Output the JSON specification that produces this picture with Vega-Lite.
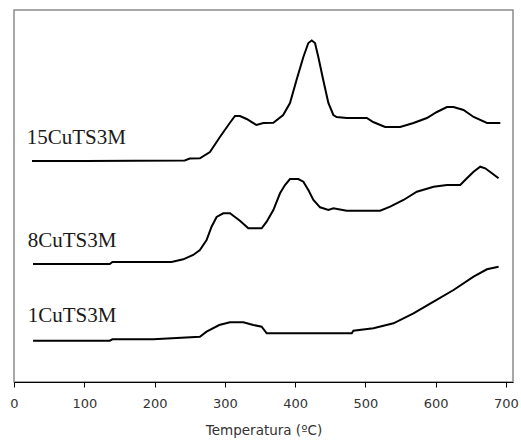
{
  "$schema": "https://vega.github.io/schema/vega-lite/v6.json",
  "width": 499,
  "height": 372,
  "autosize": {"type": "none"},
  "padding": {"left": 14, "top": 10, "right": 8, "bottom": 59},
  "background": "white",
  "config": {"view": {"stroke": "#8c8c8c", "strokeWidth": 1.5}},
  "datasets": {
    "curves": [
      {"sample": "15CuTS3M", "temp": 25.6, "signal": 221},
      {"sample": "15CuTS3M", "temp": 100, "signal": 221},
      {"sample": "15CuTS3M", "temp": 243, "signal": 221.5},
      {"sample": "15CuTS3M", "temp": 250, "signal": 223.5},
      {"sample": "15CuTS3M", "temp": 264.5, "signal": 223.7},
      {"sample": "15CuTS3M", "temp": 278.8, "signal": 230},
      {"sample": "15CuTS3M", "temp": 293, "signal": 245},
      {"sample": "15CuTS3M", "temp": 307, "signal": 259},
      {"sample": "15CuTS3M", "temp": 314.4, "signal": 266},
      {"sample": "15CuTS3M", "temp": 321.5, "signal": 266},
      {"sample": "15CuTS3M", "temp": 331, "signal": 263},
      {"sample": "15CuTS3M", "temp": 345, "signal": 257},
      {"sample": "15CuTS3M", "temp": 354.7, "signal": 259},
      {"sample": "15CuTS3M", "temp": 369, "signal": 259.3},
      {"sample": "15CuTS3M", "temp": 383, "signal": 267},
      {"sample": "15CuTS3M", "temp": 392.7, "signal": 279},
      {"sample": "15CuTS3M", "temp": 402, "signal": 302},
      {"sample": "15CuTS3M", "temp": 411.7, "signal": 325},
      {"sample": "15CuTS3M", "temp": 418.8, "signal": 339},
      {"sample": "15CuTS3M", "temp": 423.6, "signal": 341.5},
      {"sample": "15CuTS3M", "temp": 428.3, "signal": 339},
      {"sample": "15CuTS3M", "temp": 433, "signal": 325},
      {"sample": "15CuTS3M", "temp": 440, "signal": 302},
      {"sample": "15CuTS3M", "temp": 447.3, "signal": 279},
      {"sample": "15CuTS3M", "temp": 454.4, "signal": 267},
      {"sample": "15CuTS3M", "temp": 459, "signal": 265},
      {"sample": "15CuTS3M", "temp": 473.5, "signal": 264},
      {"sample": "15CuTS3M", "temp": 502, "signal": 264},
      {"sample": "15CuTS3M", "temp": 511, "signal": 260},
      {"sample": "15CuTS3M", "temp": 528, "signal": 255},
      {"sample": "15CuTS3M", "temp": 549.4, "signal": 255},
      {"sample": "15CuTS3M", "temp": 568.4, "signal": 259},
      {"sample": "15CuTS3M", "temp": 587.5, "signal": 264},
      {"sample": "15CuTS3M", "temp": 601.7, "signal": 270},
      {"sample": "15CuTS3M", "temp": 616, "signal": 275},
      {"sample": "15CuTS3M", "temp": 625.4, "signal": 275},
      {"sample": "15CuTS3M", "temp": 639.6, "signal": 272},
      {"sample": "15CuTS3M", "temp": 654, "signal": 265},
      {"sample": "15CuTS3M", "temp": 673, "signal": 259},
      {"sample": "15CuTS3M", "temp": 692, "signal": 259},
      {"sample": "8CuTS3M", "temp": 27.1, "signal": 118},
      {"sample": "8CuTS3M", "temp": 136.3, "signal": 118},
      {"sample": "8CuTS3M", "temp": 140, "signal": 120},
      {"sample": "8CuTS3M", "temp": 224.2, "signal": 120},
      {"sample": "8CuTS3M", "temp": 240.8, "signal": 122.7},
      {"sample": "8CuTS3M", "temp": 255, "signal": 127},
      {"sample": "8CuTS3M", "temp": 264.5, "signal": 132},
      {"sample": "8CuTS3M", "temp": 274, "signal": 142},
      {"sample": "8CuTS3M", "temp": 281.1, "signal": 155.3},
      {"sample": "8CuTS3M", "temp": 288.3, "signal": 165},
      {"sample": "8CuTS3M", "temp": 297.8, "signal": 168.7},
      {"sample": "8CuTS3M", "temp": 307.3, "signal": 168.7},
      {"sample": "8CuTS3M", "temp": 321.5, "signal": 161.3},
      {"sample": "8CuTS3M", "temp": 333.4, "signal": 153.7},
      {"sample": "8CuTS3M", "temp": 352.4, "signal": 153.7},
      {"sample": "8CuTS3M", "temp": 359.5, "signal": 160.3},
      {"sample": "8CuTS3M", "temp": 369, "signal": 172},
      {"sample": "8CuTS3M", "temp": 378.5, "signal": 188.7},
      {"sample": "8CuTS3M", "temp": 385.6, "signal": 197},
      {"sample": "8CuTS3M", "temp": 392.7, "signal": 203},
      {"sample": "8CuTS3M", "temp": 404.6, "signal": 203},
      {"sample": "8CuTS3M", "temp": 411.7, "signal": 200.3},
      {"sample": "8CuTS3M", "temp": 418.8, "signal": 192},
      {"sample": "8CuTS3M", "temp": 426, "signal": 182},
      {"sample": "8CuTS3M", "temp": 435.5, "signal": 174.7},
      {"sample": "8CuTS3M", "temp": 447.3, "signal": 172},
      {"sample": "8CuTS3M", "temp": 454.4, "signal": 173.7},
      {"sample": "8CuTS3M", "temp": 473.4, "signal": 171.3},
      {"sample": "8CuTS3M", "temp": 521, "signal": 171.3},
      {"sample": "8CuTS3M", "temp": 535.2, "signal": 175.3},
      {"sample": "8CuTS3M", "temp": 554.2, "signal": 182},
      {"sample": "8CuTS3M", "temp": 573.2, "signal": 190.3},
      {"sample": "8CuTS3M", "temp": 597, "signal": 195.3},
      {"sample": "8CuTS3M", "temp": 616, "signal": 197},
      {"sample": "8CuTS3M", "temp": 634.9, "signal": 197},
      {"sample": "8CuTS3M", "temp": 644.4, "signal": 203.7},
      {"sample": "8CuTS3M", "temp": 653.9, "signal": 210.3},
      {"sample": "8CuTS3M", "temp": 663.4, "signal": 215.3},
      {"sample": "8CuTS3M", "temp": 670.5, "signal": 213.7},
      {"sample": "8CuTS3M", "temp": 680, "signal": 208.7},
      {"sample": "8CuTS3M", "temp": 689.5, "signal": 203.7},
      {"sample": "1CuTS3M", "temp": 27.1, "signal": 41.3},
      {"sample": "1CuTS3M", "temp": 136.3, "signal": 41.3},
      {"sample": "1CuTS3M", "temp": 140, "signal": 42.7},
      {"sample": "1CuTS3M", "temp": 198.1, "signal": 42.7},
      {"sample": "1CuTS3M", "temp": 264.5, "signal": 45.3},
      {"sample": "1CuTS3M", "temp": 274, "signal": 50.3},
      {"sample": "1CuTS3M", "temp": 292, "signal": 57},
      {"sample": "1CuTS3M", "temp": 307.3, "signal": 59.7},
      {"sample": "1CuTS3M", "temp": 326.3, "signal": 59.7},
      {"sample": "1CuTS3M", "temp": 340.5, "signal": 57},
      {"sample": "1CuTS3M", "temp": 352.4, "signal": 55.3},
      {"sample": "1CuTS3M", "temp": 359.5, "signal": 48.7},
      {"sample": "1CuTS3M", "temp": 480.6, "signal": 48.7},
      {"sample": "1CuTS3M", "temp": 482.9, "signal": 51.3},
      {"sample": "1CuTS3M", "temp": 511.4, "signal": 53.7},
      {"sample": "1CuTS3M", "temp": 539.9, "signal": 58.7},
      {"sample": "1CuTS3M", "temp": 568.4, "signal": 68.7},
      {"sample": "1CuTS3M", "temp": 597, "signal": 80.3},
      {"sample": "1CuTS3M", "temp": 625.4, "signal": 92},
      {"sample": "1CuTS3M", "temp": 653.9, "signal": 105.3},
      {"sample": "1CuTS3M", "temp": 672.9, "signal": 112.7},
      {"sample": "1CuTS3M", "temp": 689.5, "signal": 115.3}
    ],
    "labels": [
      {"sample": "15CuTS3M", "temp": 18.1, "signal": 238},
      {"sample": "8CuTS3M", "temp": 19.5, "signal": 135.3},
      {"sample": "1CuTS3M", "temp": 19.5, "signal": 60.3}
    ]
  },
  "layer": [
    {
      "data": {"name": "curves"},
      "mark": {"type": "line", "color": "black", "strokeWidth": 2},
      "encoding": {
        "x": {
          "field": "temp",
          "type": "quantitative",
          "scale": {"domain": [0, 710], "nice": false, "zero": false},
          "axis": {
            "values": [0, 50, 100, 150, 200, 250, 300, 350, 400, 450, 500, 550, 600, 650, 700],
            "labelExpr": "datum.value % 100 === 0 ? datum.label : ''",
            "tickSize": {"condition": {"test": "datum.value % 100 === 0", "value": 5}, "value": 3},
            "grid": false,
            "labelFlush": false,
            "labelOverlap": false,
            "labelFont": "DejaVu Sans",
            "labelFontSize": 13,
            "labelColor": "#333333",
            "labelPadding": 10,
            "tickColor": "black",
            "domainColor": "black",
            "title": "Temperatura (ºC)",
            "titleFont": "DejaVu Sans",
            "titleFontSize": 13.5,
            "titleFontWeight": "normal",
            "titleColor": "#333333",
            "titlePadding": 13
          }
        },
        "y": {
          "field": "signal",
          "type": "quantitative",
          "scale": {"domain": [0, 372], "nice": false},
          "axis": null
        },
        "detail": {"field": "sample"}
      }
    },
    {
      "data": {"name": "labels"},
      "mark": {"type": "text", "align": "left", "baseline": "alphabetic", "font": "Liberation Serif", "fontSize": 21, "color": "#1a1a1a"},
      "encoding": {
        "x": {"field": "temp", "type": "quantitative"},
        "y": {"field": "signal", "type": "quantitative"},
        "text": {"field": "sample"}
      }
    }
  ]
}
